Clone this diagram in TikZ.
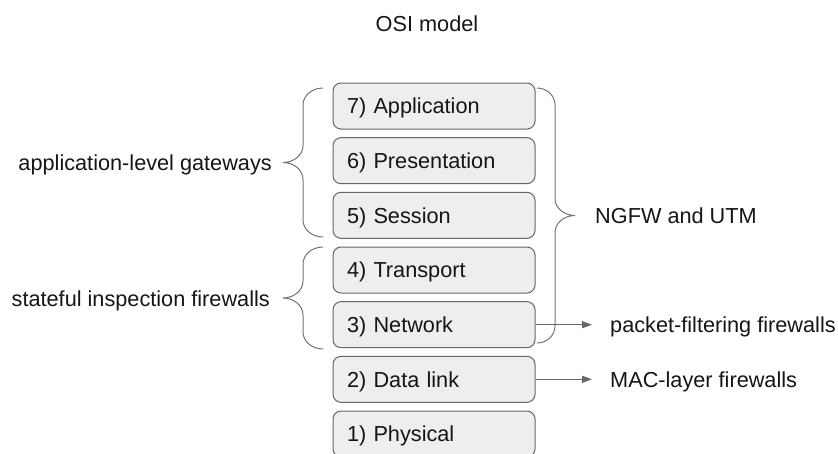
\documentclass[tikz,border=0pt]{standalone}
\usepackage{fontspec}
\setmainfont{Liberation Sans}
\usetikzlibrary{arrows.meta}
\definecolor{boxfill}{HTML}{EEEEEE}
\definecolor{boxline}{HTML}{666666}
\definecolor{braceline}{HTML}{737373}
\definecolor{ink}{HTML}{151515}
% curly bracket: #1 end x, #2 spine x, #3 tip x, #4 top y, #5 bottom y
\newcommand\curlybracket[5]{%
  \pgfmathsetmacro\cbmid{(#4+#5)/2}%
  \pgfmathsetmacro\cbA{#1+0.552*(#2-#1)}%
  \pgfmathsetmacro\cbB{#3+0.552*(#2-#3)}%
  \draw[brace] (#1,#4) .. controls (\cbA,#4) and (#2,{#4+0.448*17}) .. (#2,{#4+17})
    -- (#2,{\cbmid-17}) .. controls (#2,{\cbmid-0.448*17}) and (\cbB,\cbmid) .. (#3,\cbmid)
    .. controls (\cbB,\cbmid) and (#2,{\cbmid+0.448*17}) .. (#2,{\cbmid+17})
    -- (#2,{#5-17}) .. controls (#2,{#5-0.448*17}) and (\cbA,#5) .. (#1,#5);}
\begin{document}
\begin{tikzpicture}[x=1pt,y=-1pt,
  every node/.style={font=\fontsize{21.7}{26}\selectfont, text=ink,
    text height=15.6pt, text depth=0pt, inner sep=0pt},
  layer/.style={draw=boxline, fill=boxfill, line width=1pt, rounded corners=8pt,
    minimum width=202pt, minimum height=46pt, text width=174pt,
    inner xsep=14pt, align=left},
  brace/.style={draw=braceline, line width=1pt},
  arr/.style={draw=boxline, line width=1pt, -{Triangle[length=10pt,width=7pt]}}]
\useasboundingbox (0,0) rectangle (838,453);

\node (title) at (427,23.5) {OSI model};

% the seven layers
\node[layer] (l7) at (434,106.0) {7) Application};
\node[layer] (l6) at (434,160.7) {6) Presentation};
\node[layer] (l5) at (434,215.3) {5) Session};
\node[layer] (l4) at (434,270.0) {4) Transport};
\node[layer] (l3) at (434,324.7) {3) Network};
\node[layer] (l2) at (434,379.3) {2) Data link};
\node[layer] (l1) at (434,434.0) {1) Physical};

% brackets grouping layers
\curlybracket{323}{303}{283}{88}{237}
\curlybracket{323}{303}{283}{247}{349}
\curlybracket{537}{555}{575}{88}{343}

% firewall classes
\node[anchor=east] (alg) at (272,163) {application-level gateways};
\node[anchor=east] (sif) at (270,299) {stateful inspection firewalls};
\node[anchor=west] (ngfw) at (595,215.5) {NGFW and UTM};
\node[anchor=west] (pff) at (610,324.7) {packet-filtering firewalls};
\node[anchor=west] (mac) at (610,379.3) {MAC-layer firewalls};

\draw[arr] (l3.east) -- ([xshift=-18pt]pff.west);
\draw[arr] (l2.east) -- ([xshift=-18pt]mac.west);
\end{tikzpicture}
\end{document}
